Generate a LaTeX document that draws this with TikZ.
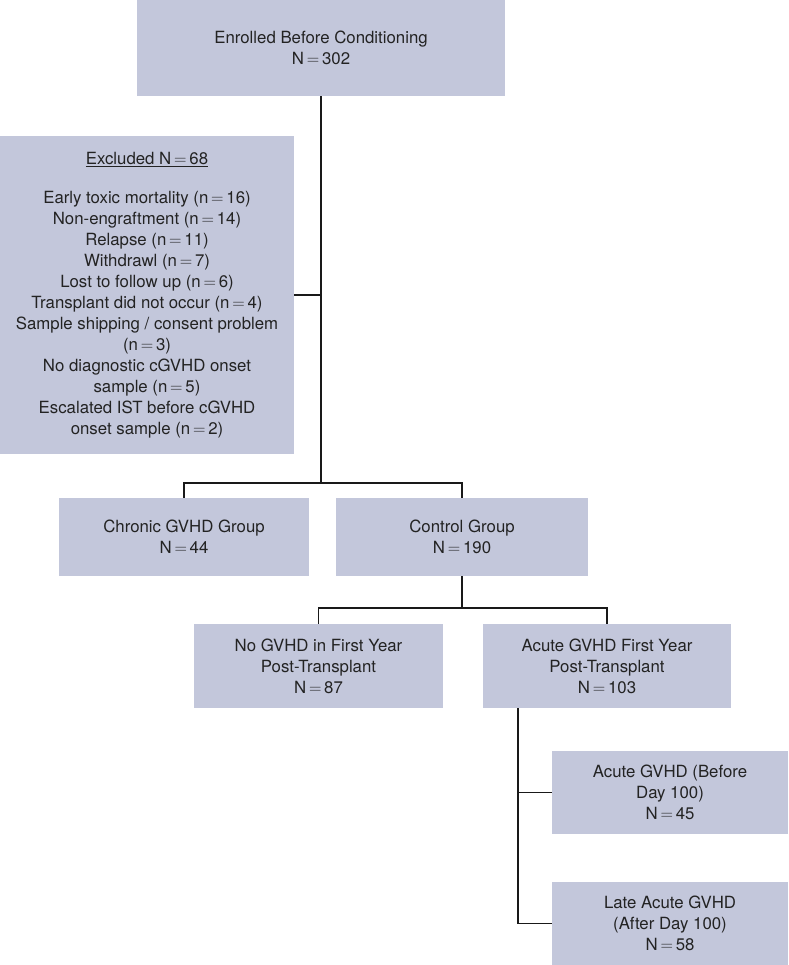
\documentclass[tikz,border=0pt]{standalone}
\usepackage{fontspec}
\setmainfont{TeX Gyre Heros}
\definecolor{boxfill}{RGB}{195,199,219}
\definecolor{txt}{RGB}{35,35,35}
\definecolor{ln}{RGB}{25,25,25}
\newcommand{\eqs}{\,$=$\,}
\tikzset{
  fbox/.style={fill=boxfill, draw=none, inner sep=0pt, align=center, text=txt,
    font=\fontsize{16.8}{21}\selectfont, anchor=center},
  conn/.style={draw=ln, line width=1.9pt}
}
\begin{document}
\begin{tikzpicture}[x=1pt,y=-1pt]
\useasboundingbox (0,0) rectangle (788,965);
\node[fbox, minimum width=368pt, minimum height=96pt] (top) at (321,48)
  {Enrolled Before Conditioning\\N\eqs 302};
\node[fbox, minimum width=294pt, minimum height=318pt] (excl) at (147,295)
  {\underline{Excluded N\eqs 68}\\[18pt]
   Early toxic mortality (n\eqs 16)\\
   Non-engraftment (n\eqs 14)\\
   Relapse (n\eqs 11)\\
   Withdrawl (n\eqs 7)\\
   Lost to follow up (n\eqs 6)\\
   Transplant did not occur (n\eqs 4)\\
   Sample shipping / consent problem\\
   (n\eqs 3)\\
   No diagnostic cGVHD onset\\
   sample (n\eqs 5)\\
   Escalated IST before cGVHD\\
   onset sample (n\eqs 2)};
\node[fbox, minimum width=250pt, minimum height=78pt] (chronic) at (184,537)
  {Chronic GVHD Group\\N\eqs 44};
\node[fbox, minimum width=252pt, minimum height=78pt] (control) at (462,537)
  {Control Group\\N\eqs 190};
\node[fbox, minimum width=249pt, minimum height=84pt] (nogvhd) at (318.5,666)
  {No GVHD in First Year\\Post-Transplant\\N\eqs 87};
\node[fbox, minimum width=248pt, minimum height=84pt] (acute) at (607,666)
  {Acute GVHD First Year\\Post-Transplant\\N\eqs 103};
\node[fbox, minimum width=236pt, minimum height=83pt] (before) at (670,792.5)
  {Acute GVHD (Before\\Day 100)\\N\eqs 45};
\node[fbox, minimum width=236pt, minimum height=83pt] (late) at (670,923.5)
  {Late Acute GVHD\\(After Day 100)\\N\eqs 58};

\coordinate (b1) at (321,483);
\coordinate (b2) at (462,608);
\draw[conn] (top.south) -- (b1);
\draw[conn] (excl.east) -- (excl.east -| b1);
\draw[conn] (chronic.north) |- (b1) -| (control.north);
\draw[conn] (control.south) -- (b2);
\draw[conn] (nogvhd.north) |- (b2) -| (acute.north);
\draw[conn] ([xshift=-89pt]acute.south) |- (before.west);
\draw[conn] ([xshift=-89pt]acute.south) |- (late.west);
\end{tikzpicture}
\end{document}
